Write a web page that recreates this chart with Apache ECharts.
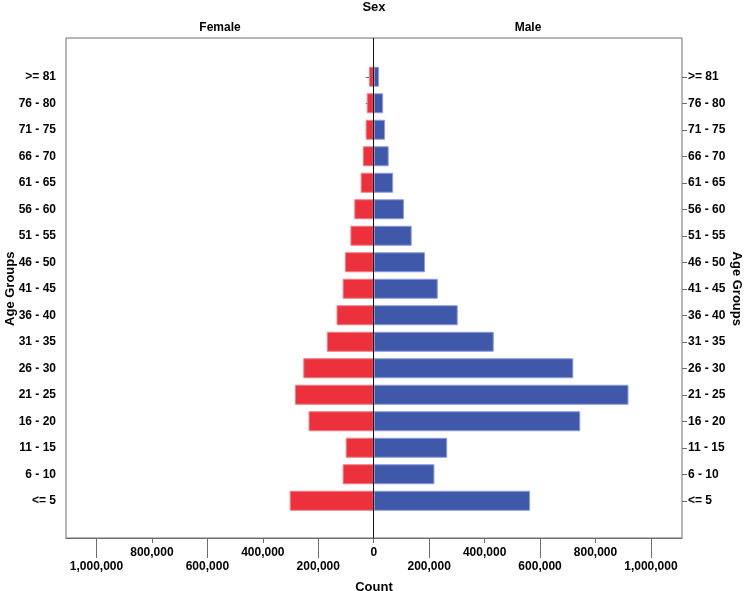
<!DOCTYPE html>
<html>
<head>
<meta charset="utf-8">
<script src="https://cdn.jsdelivr.net/npm/echarts@6/dist/echarts.min.js"></script>
<style>html,body{margin:0;padding:0;background:#fff;}#chart{width:745px;height:591px;}</style>
</head>
<body>
<div id="chart"></div>
<script>
var categories = ['>= 81','76 - 80','71 - 75','66 - 70','61 - 65','56 - 60','51 - 55','46 - 50','41 - 45','36 - 40','31 - 35','26 - 30','21 - 25','16 - 20','11 - 15','6 - 10','<= 5'];
var female = [17000, 25000, 29000, 39000, 47000, 70000, 84000, 104000, 112000, 134000, 169000, 254000, 284000, 235000, 101000, 112000, 303000];
var male = [19000, 34000, 41000, 54000, 70000, 109000, 137000, 185000, 231000, 303000, 433000, 720000, 919000, 745000, 265000, 219000, 564000];
var upperTicks = [-800000, -400000, 0, 400000, 800000];
var lowerTicks = [-1000000, -600000, -200000, 200000, 600000, 1000000];

var FONT = 'Liberation Sans, Arial, sans-serif';
var cats = [''].concat(categories).concat(['']);
var femaleData = [null].concat(female.map(function(v){return -v;})).concat([null]);
var maleData = [null].concat(male).concat([null]);
function fmt(v){ return Math.abs(v).toLocaleString('en-US'); }

var chart = echarts.init(document.getElementById('chart'), null, {renderer:'canvas'});
var XMIN = -1110000, XMAX = 1112000;
var AX = '#6e6e6e';
var labelStyle = {color: '#000', fontFamily: FONT, fontWeight: 'bold', fontSize: 12};
var nameStyle = {color: '#000', fontFamily: FONT, fontWeight: 'bold', fontSize: 13};
function tickInterval(i, v){ return v !== ''; }

chart.setOption({
  animation: false,
  grid: [
    {left: 66, right: 63, top: 38, bottom: 53, containLabel: false, outerBoundsMode: 'none', show: true, borderColor: AX, borderWidth: 1, backgroundColor: 'transparent'},
    {left: 66, right: 63, top: 37, bottom: 50.5, containLabel: false, outerBoundsMode: 'none', show: false}
  ],
  graphic: [
    {type: 'text', x: 374, y: 7, style: {text: 'Sex', font: 'bold 13px ' + FONT, fill: '#000', textAlign: 'center', textVerticalAlign: 'middle'}},
    {type: 'text', x: 220, y: 28, style: {text: 'Female', font: 'bold 12px ' + FONT, fill: '#000', textAlign: 'center', textVerticalAlign: 'middle'}},
    {type: 'text', x: 528, y: 28, style: {text: 'Male', font: 'bold 12px ' + FONT, fill: '#000', textAlign: 'center', textVerticalAlign: 'middle'}}
  ],
  xAxis: [
    {
      type: 'value', gridIndex: 0, min: XMIN, max: XMAX, position: 'bottom', splitLine: {show: false},
      axisLine: {show: true, lineStyle: {color: AX}},
      axisTick: {show: true, length: 5, customValues: upperTicks, lineStyle: {color: AX}},
      axisLabel: Object.assign({customValues: upperTicks, formatter: fmt, margin: 9}, labelStyle),
      name: 'Count', nameLocation: 'middle', nameGap: 43, nameMoveOverlap: false, nameTextStyle: nameStyle
    },
    {
      type: 'value', gridIndex: 0, min: XMIN, max: XMAX, position: 'bottom', splitLine: {show: false},
      axisLine: {show: false},
      axisTick: {show: true, length: 20, customValues: lowerTicks, lineStyle: {color: AX}},
      axisLabel: Object.assign({customValues: lowerTicks, formatter: fmt, margin: 23}, labelStyle)
    },
    {
      type: 'value', gridIndex: 1, min: XMIN, max: XMAX, show: false, splitLine: {show: false}
    }
  ],
  yAxis: [
    {
      type: 'value', gridIndex: 0, show: false, splitLine: {show: false}
    },
    {
      type: 'category', gridIndex: 1, data: cats, inverse: true, position: 'left',
      axisLine: {show: false},
      axisTick: {show: true, alignWithLabel: true, length: 8, interval: tickInterval, lineStyle: {color: AX}},
      axisLabel: Object.assign({interval: 0, margin: 10}, labelStyle),
      name: 'Age Groups', nameLocation: 'middle', nameGap: 49, nameRotate: 90, nameMoveOverlap: false, nameTextStyle: nameStyle
    },
    {
      type: 'category', gridIndex: 1, data: cats, inverse: true, position: 'right',
      axisLine: {show: false},
      axisTick: {show: true, alignWithLabel: true, length: 5, interval: tickInterval, lineStyle: {color: AX}},
      axisLabel: Object.assign({interval: 0, margin: 6}, labelStyle),
      name: 'Age Groups', nameLocation: 'middle', nameGap: 48, nameRotate: -90, nameMoveOverlap: false, nameTextStyle: nameStyle
    }
  ],
  series: [
    {
      name: 'Female', type: 'bar', stack: 'pop', data: femaleData, barWidth: 20,
      xAxisIndex: 2, yAxisIndex: 1,
      itemStyle: {color: '#ec313c', borderColor: '#f27d84', borderWidth: 1}
    },
    {
      name: 'Male', type: 'bar', stack: 'pop', data: maleData, barWidth: 20,
      xAxisIndex: 2, yAxisIndex: 1,
      itemStyle: {color: '#3f58a9', borderColor: '#8c9de0', borderWidth: 1}
    },
    {
      name: 'zero', type: 'line', data: [], xAxisIndex: 0, yAxisIndex: 0,
      markLine: {
        silent: true, symbol: ['none','none'], label: {show: false},
        lineStyle: {color: '#111', width: 1, type: 'solid'},
        data: [{xAxis: 0}]
      }
    }
  ]
});
</script>
</body>
</html>
